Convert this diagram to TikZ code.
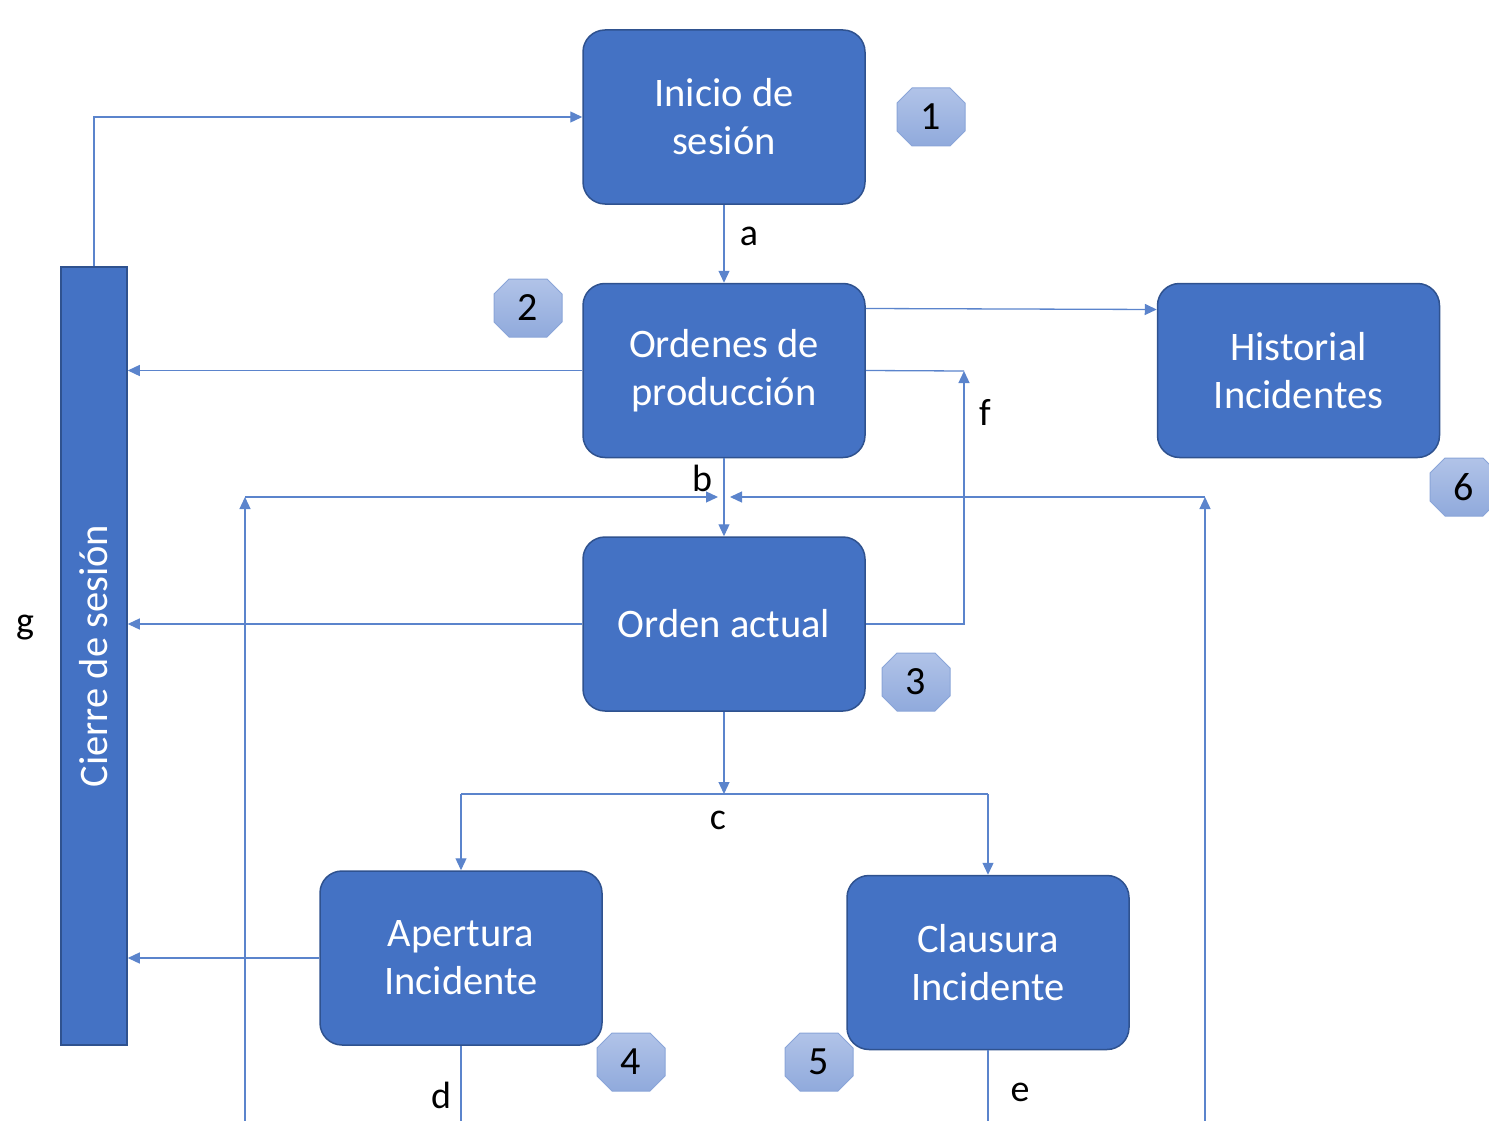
\documentclass[tikz,border=0pt]{standalone}
\usepackage{fontspec}
\setmainfont{Carlito}
\usetikzlibrary{arrows.meta}
\definecolor{boxfill}{HTML}{4472C4}
\definecolor{boxdraw}{HTML}{2F528F}
\definecolor{linec}{HTML}{5B84CC}
\definecolor{badgetop}{HTML}{B1C3E8}
\definecolor{badgebot}{HTML}{90AADC}
\definecolor{badgedraw}{HTML}{8AA5D8}
\tikzset{
  box/.style={draw=boxdraw, line width=1.5pt, fill=boxfill, rounded corners=22pt,
    minimum width=282pt, minimum height=174pt, text=white, align=center,
    font=\fontsize{40.5}{48}\selectfont},
  badgetxt/.style={inner sep=0pt, font=\fontsize{40}{48}\selectfont},
  badgeshape/.style={draw=badgedraw, line width=1pt, top color=badgetop, bottom color=badgebot},
  conn/.style={draw=linec, line width=1.3pt, -{Triangle[length=12pt,width=11pt]}},
  plain/.style={draw=linec, line width=1.3pt},
  lbl/.style={font=\fontsize{38}{44}\selectfont, inner sep=0pt}
}
\newcommand{\mybadge}[4]{%
  \path[badgeshape] (#2-34+15,#3-29) -- (#2+34-15,#3-29) -- (#2+34,#3-29+15) -- (#2+34,#3+29-15)
    -- (#2+34-15,#3+29) -- (#2-34+15,#3+29) -- (#2-34,#3+29-15) -- (#2-34,#3-29+15) -- cycle;
  \node[badgetxt] (#1) at (#2,#3) {#4};}
\begin{document}
\begin{tikzpicture}[x=1pt,y=-1pt]
\useasboundingbox (0,0) rectangle (1489,1121);
% boxes
\node[box] (ini) at (724,117) {Inicio de\\sesión};
\node[box] (ord) at (724,370.5) {Ordenes de\\producción};
\node[box] (act) at (724,624) {Orden actual};
\node[box] (his) at (1298.5,370.5) {Historial\\Incidentes};
\node[box] (ape) at (461,958) {Apertura\\Incidente};
\node[box] (cla) at (988,962.5) {Clausura\\Incidente};
\node[draw=boxdraw, line width=1.5pt, fill=boxfill, minimum width=66pt, minimum height=778pt,
  inner sep=0pt] (cie) at (94,656) {};
\node[rotate=90, text=white, font=\fontsize{40.5}{48}\selectfont] (ciet) at (94,656) {Cierre de sesión};
% badges
\mybadge{b1}{931}{117}{1}
\mybadge{b2}{528}{308}{2}
\mybadge{b3}{916}{682}{3}
\mybadge{b4}{631}{1062}{4}
\mybadge{b5}{819}{1062}{5}
\mybadge{b6}{1464}{487}{6}
% coordinates
\coordinate (ftop) at (964,371);
\coordinate (lb) at (245,497);
\coordinate (rb) at (1205,497);
\coordinate (ml) at (718,497);
\coordinate (mr) at (730,497);
\coordinate (lbot) at (245,1121);
\coordinate (rbot) at (1205,1121);
\coordinate (dbot) at (461,1121);
\coordinate (ebot) at (988,1121);
\coordinate (csplit) at (724,794);
\coordinate (cl) at (461,794);
\coordinate (cr) at (988,794);
% connectors
\draw[conn] (ini.south) -- (ord.north);
\draw[conn] (cie.north) |- (ini.west);
\draw[conn] (ord.west) -- (cie.east |- ord.west);
\draw[conn] (act.west) -- (cie.east |- act.west);
\draw[conn] (ape.west) -- (cie.east |- ape.west);
\draw[conn] ([yshift=62pt]ord.east) -- ([yshift=61pt]his.west);
\draw[plain] (ord.east) -- (ftop);
\draw[conn] (act.east) -| (ftop);
\draw[conn] (ord.south) -- (act.north);
\draw[conn] (lbot) -- (lb);
\draw[conn] (lb) -- (ml);
\draw[conn] (rbot) -- (rb);
\draw[conn] (rb) -- (mr);
\draw[plain] (ape.south) -- (dbot);
\draw[plain] (cla.south) -- (ebot);
\draw[conn] (act.south) -- (csplit);
\draw[plain] (cl) -- (cr);
\draw[conn] (cl) -- (ape.north);
\draw[conn] (cr) -- (cla.north);
% labels
\node[lbl] (la) at (749,236) {a};
\node[lbl] (lbb) at (702,478) {b};
\node[lbl] (lc) at (718,820) {c};
\node[lbl] (ld) at (441,1095) {d};
\node[lbl] (le) at (1020,1092) {e};
\node[lbl] (lf) at (985,412) {f};
\node[lbl] (lg) at (25,628) {g};
\end{tikzpicture}
\end{document}
